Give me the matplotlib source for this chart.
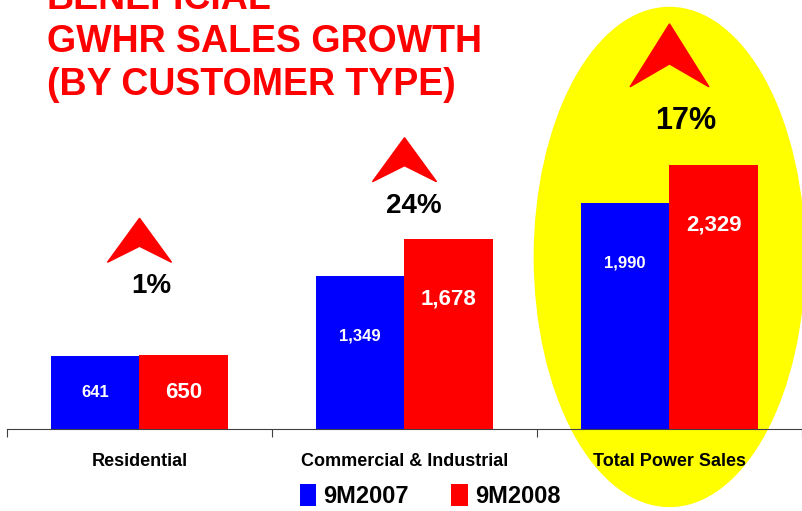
import matplotlib.pyplot as plt
from matplotlib.patches import Ellipse, Polygon
from matplotlib import font_manager

categories = ["Residential", "Commercial & Industrial", "Total Power Sales"]
sales_2007 = [641, 1349, 1990]
sales_2008 = [650, 1678, 2329]
growth = ["1%", "24%", "17%"]
series = ["9M2007", "9M2008"]

names = {f.name for f in font_manager.fontManager.ttflist}
narrow = "Liberation Sans Narrow" if "Liberation Sans Narrow" in names else "Liberation Sans"
plt.rcParams["font.family"] = ["Liberation Sans", "DejaVu Sans"]

fig = plt.figure(figsize=(8.03, 5.11), dpi=100)
ax = fig.add_axes([7 / 803, 82 / 511, 795 / 803, 429 / 511])
ax.patch.set_alpha(0)
ymax = 3783
px = ymax / 429  # data units per pixel
ax.set_xlim(-0.5, 2.5)
ax.set_ylim(0, ymax)

# yellow highlight behind the total bars
ax.add_patch(Ellipse((2.0, 1517), 1.02, 4400, color="#FFFF00", zorder=0, clip_on=False))

w = 0.335
x = range(len(categories))
b1 = ax.bar([i - w / 2 for i in x], sales_2007, w, color="#0000FF", zorder=2, label=series[0])
b2 = ax.bar([i + w / 2 for i in x], sales_2008, w, color="#FF0000", zorder=2, label=series[1])

off = 60 * px
for i in x:
    h1, h2 = sales_2007[i], sales_2008[i]
    ax.text(i - w / 2, max(h1 / 2, h1 - off), f"{h1:,}", color="white", ha="center", va="center",
            fontsize=12, fontweight="bold", family=narrow, zorder=3)
    ax.text(i + w / 2, max(h2 / 2, h2 - off), f"{h2:,}", color="white", ha="center", va="center",
            fontsize=16, fontweight="bold", family=narrow, zorder=3)

# growth arrows and percentages (gap above tallest bar, in pixels)
arrow_gap = [137, 101, 141]
arrow_w = [1.0, 1.0, 1.23]
arrow_h = [1.0, 1.0, 1.43]
label_drop = [68, 68, 97]
label_dx = [0.045, 0.035, 0.06]
for i in x:
    top = max(sales_2007[i], sales_2008[i])
    tip = top + arrow_gap[i] * px
    hw = 0.121 * arrow_w[i]
    hh = 44 * px * arrow_h[i]
    notch = 16 * px * arrow_h[i]
    ax.add_patch(Polygon([(i, tip), (i + hw, tip - hh), (i, tip - hh + notch),
                          (i - hw, tip - hh)], closed=True, color="#FF0000", zorder=3))
    ax.text(i + label_dx[i], tip - label_drop[i] * px, growth[i], ha="center", va="center",
            fontsize=20 if i < 2 else 22, fontweight="bold", color="black", zorder=3)

for sp in ["top", "left", "right"]:
    ax.spines[sp].set_visible(False)
ax.spines["bottom"].set_color("#404040")
ax.set_yticks([])
ax.set_xticks([-0.5, 0.5, 1.5, 2.5])
ax.set_xticklabels([])
ax.tick_params(axis="x", length=6, color="#404040", direction="out")
for i, c in enumerate(categories):
    ax.text(i, -32 * px, c, ha="center", va="center", fontsize=13, fontweight="bold",
            family=narrow, clip_on=False)

fig.legend(handles=[b1, b2], labels=series, loc="center", bbox_to_anchor=(430 / 803, 1 - 496 / 511),
           ncol=2, frameon=False, handlelength=0.7, handleheight=1.1, handletextpad=0.3,
           columnspacing=1.8, prop={"family": narrow, "weight": "bold", "size": 17})

title = ["BENEFICIAL", "GWHR SALES GROWTH", "(BY CUSTOMER TYPE)"]
for k, line in enumerate(title):
    fig.text(47 / 803, 1 - (9 + 43 * k) / 511, line, color="#FF0000", fontsize=27,
             fontweight="bold", ha="left", va="baseline")

fig.savefig("out.png", dpi=100)
